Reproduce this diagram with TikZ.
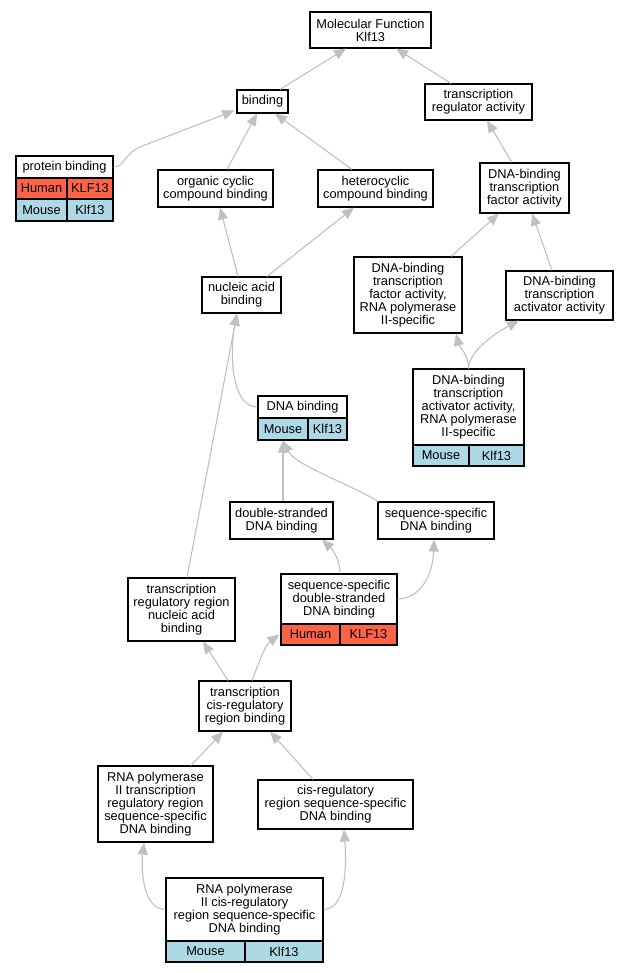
\documentclass[tikz,border=0pt]{standalone}
\usepackage{fontspec}
\setmainfont{Liberation Sans}
\usetikzlibrary{arrows.meta}
\definecolor{human}{HTML}{FF6347}
\definecolor{mouse}{HTML}{ADD8E6}
\definecolor{edgegray}{HTML}{C0C0C0}
\begin{document}
\begin{tikzpicture}[x=1pt, y=-1pt,
    term/.style = {draw, fill=white, line width=1.1pt, inner sep=0pt, align=center,
        font=\fontsize{12.8}{13}\selectfont},
    humancell/.style = {term, fill=human},
    mousecell/.style = {term, fill=mouse},
    edge/.style = {draw=edgegray, line width=1.1pt, -{Triangle[length=12pt,width=10pt]}}]
    \useasboundingbox (0,0) rectangle (629,973);
    % terms
    \node[term, minimum width=121, minimum height=36] (mf) at (370.5,30) {Molecular Function\\Klf13};
    \node[term, minimum width=51, minimum height=23] (binding) at (262.5,101.5) {binding};
    \node[term, minimum width=107, minimum height=36] (trreg) at (478.5,102) {transcription\\regulator activity};
    \node[term, minimum width=97, minimum height=22] (pb) at (64.5,167) {protein binding};
    \node[humancell, minimum width=51, minimum height=21] (pbhs) at (41.5,188.5) {Human};
    \node[humancell, minimum width=46, minimum height=21] (pbhg) at (90,188.5) {KLF13};
    \node[mousecell, minimum width=51, minimum height=22] (pbms) at (41.5,210) {Mouse};
    \node[mousecell, minimum width=46, minimum height=22] (pbmg) at (90,210) {Klf13};
    \node[term, minimum width=115, minimum height=37] (orgcyc) at (215.5,188.5) {organic cyclic\\compound binding};
    \node[term, minimum width=115, minimum height=37] (hetcyc) at (375.5,188.5) {heterocyclic\\compound binding};
    \node[term, minimum width=89, minimum height=50] (dbtfa) at (524.5,188) {DNA-binding\\transcription\\factor activity};
    \node[term, minimum width=79, minimum height=36] (nucacid) at (241.5,295) {nucleic acid\\binding};
    \node[term, minimum width=108, minimum height=76] (dbtfapol) at (408,295) {DNA-binding\\transcription\\factor activity,\\RNA polymerase\\II-specific};
    \node[term, minimum width=107, minimum height=49] (dbtaa) at (559.5,295.5) {DNA-binding\\transcription\\activator activity};
    \node[term, minimum width=89, minimum height=22] (dnab) at (302.5,407) {DNA binding};
    \node[mousecell, minimum width=50, minimum height=22] (dnabms) at (283,429) {Mouse};
    \node[mousecell, minimum width=39, minimum height=22] (dnabmg) at (327.5,429) {Klf13};
    \node[term, minimum width=111, minimum height=76] (dbtaapol) at (468.5,407) {DNA-binding\\transcription\\activator activity,\\RNA polymerase\\II-specific};
    \node[mousecell, minimum width=56, minimum height=21] (dbtaapolms) at (441,455.5) {Mouse};
    \node[mousecell, minimum width=55, minimum height=21] (dbtaapolmg) at (496.5,455.5) {Klf13};
    \node[term, minimum width=103, minimum height=37] (dsdna) at (281.5,520.5) {double-stranded\\DNA binding};
    \node[term, minimum width=116, minimum height=37] (ssdna) at (436,520.5) {sequence-specific\\DNA binding};
    \node[term, minimum width=107, minimum height=63] (trrnab) at (181.5,609.5) {transcription\\regulatory region\\nucleic acid\\binding};
    \node[term, minimum width=116, minimum height=50] (ssds) at (339,599) {sequence-specific\\double-stranded\\DNA binding};
    \node[humancell, minimum width=59, minimum height=21] (ssdshs) at (310.5,634.5) {Human};
    \node[humancell, minimum width=57, minimum height=21] (ssdshg) at (368.5,634.5) {KLF13};
    \node[term, minimum width=92, minimum height=50] (trcis) at (245,706) {transcription\\cis-regulatory\\region binding};
    \node[term, minimum width=115, minimum height=76] (rnaptr) at (155.5,804) {RNA polymerase\\II transcription\\regulatory region\\sequence-specific\\DNA binding};
    \node[term, minimum width=155, minimum height=49] (cisreg) at (335.5,804.5) {cis-regulatory\\region sequence-specific\\DNA binding};
    \node[term, minimum width=157, minimum height=63] (rnapcis) at (244.5,909.5) {RNA polymerase\\II cis-regulatory\\region sequence-specific\\DNA binding};
    \node[mousecell, minimum width=79, minimum height=21] (rnapcisms) at (205.5,951.5) {Mouse};
    \node[mousecell, minimum width=78, minimum height=21] (rnapcismg) at (284,951.5) {Klf13};
    % is_a links
    \draw[edge] ([shift={(17.5,0)}]binding.north) -- ([shift={(-24.5,0)}]mf.south);
    \draw[edge] ([shift={(-27.5,0)}]trreg.north) -- ([shift={(25.5,0)}]mf.south);
    \draw[edge] (pb.east) .. controls (126,167) and (122,153) .. (145,145) -- ([shift={(-2,-3)}]binding.south west);
    \draw[edge] ([shift={(11.5,0)}]orgcyc.north) -- ([shift={(-5.5,0)}]binding.south);
    \draw[edge] ([shift={(-23.5,0)}]hetcyc.north) -- ([shift={(12.5,0)}]binding.south);
    \draw[edge] ([shift={(-12.5,0)}]dbtfa.north) -- ([shift={(8.5,0)}]trreg.south);
    \draw[edge] ([shift={(-3.5,0)}]nucacid.north) -- ([shift={(4.5,0)}]orgcyc.south);
    \draw[edge] ([shift={(25.5,0)}]nucacid.north) -- ([shift={(-21.5,0)}]hetcyc.south);
    \draw[edge] ([shift={(43,0)}]dbtfapol.north) -- ([shift={(-25.5,0)}]dbtfa.south);
    \draw[edge] ([shift={(-7.5,0)}]dbtaa.north) -- ([shift={(7.5,0)}]dbtfa.south);
    \draw[edge] (dbtaapol.north) .. controls (469,355) and (459,346) .. ([shift={(48,0)}]dbtfapol.south);
    \draw[edge] (dbtaapol.north) .. controls (469,352) and (492,335) .. ([shift={(-40.5,0)}]dbtaa.south);
    \draw[edge] (dnab.west) .. controls (230,407) and (230,350) .. ([shift={(-4.5,0)}]nucacid.south);
    \draw[edge] ([shift={(5.5,0)}]trrnab.north) -- ([shift={(-4.5,0)}]nucacid.south);
    \draw[edge] ([shift={(1.5,0)}]dsdna.north) -- (dnabms.south);
    \draw[edge] ([shift={(1,0)}]ssdna.north west) .. controls (345,482) and (295,465) .. (dnabms.south);
    \draw[edge] ([shift={(1,0)}]ssds.north) .. controls (340,560) and (333,550) .. ([shift={(40.5,0)}]dsdna.south);
    \draw[edge] (ssds.east) .. controls (420,599) and (433,575) .. ([shift={(-2,0)}]ssdna.south);
    \draw[edge] ([shift={(-17,0)}]trcis.north) -- ([shift={(21.5,0)}]trrnab.south);
    \draw[edge] ([shift={(7,0)}]trcis.north) .. controls (258,665) and (265,645) .. ([shift={(-1,0)}]ssdshs.west);
    \draw[edge] ([shift={(35.5,0)}]rnaptr.north) -- ([shift={(-22,0)}]trcis.south);
    \draw[edge] ([shift={(-22.5,0)}]cisreg.north) -- ([shift={(25,0)}]trcis.south);
    \draw[edge] (rnapcis.west) .. controls (143,909.5) and (141,870) .. ([shift={(-11.5,0)}]rnaptr.south);
    \draw[edge] (rnapcis.east) .. controls (345,909.5) and (347,870) .. ([shift={(8.5,0)}]cisreg.south);
\end{tikzpicture}
\end{document}
